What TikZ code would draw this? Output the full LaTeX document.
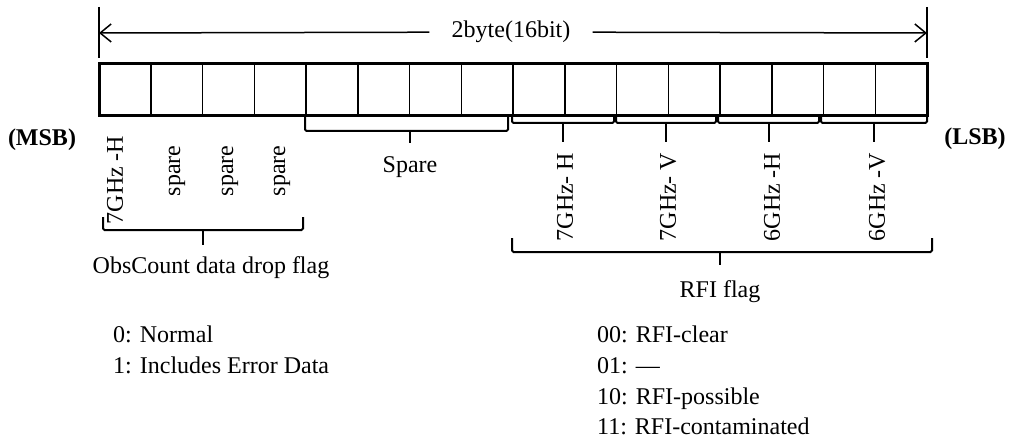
\documentclass[tikz,border=0pt]{standalone}
\usepackage{fontspec}
\setmainfont{Liberation Serif}
\usetikzlibrary{arrows.meta}
\begin{document}
\begin{tikzpicture}[x=1pt,y=-1pt,
  lbl/.style={font=\fontsize{24}{28}\selectfont, inner sep=0pt},
  blbl/.style={font=\fontsize{24}{28}\selectfont\bfseries, inner sep=0pt},
  rot/.style={lbl, rotate=90},
  brk/.style={line width=2pt, rounded corners=1.5pt},
  arr/.style={line width=1.5pt, -{Straight Barb[length=11pt,width=18pt,line width=1.5pt]}},
  tick/.style={line width=1.5pt},
  cell/.style={line width=1.5pt}]
\useasboundingbox (0,0) rectangle (1010,441);
% width arrow
\coordinate (L) at (99,33);
\coordinate (R) at (927,33);
\node[lbl, inner xsep=22pt] (ttl) at (511,32) {2byte(16bit)};
\draw[tick] (99,7) -- (99,58);
\draw[tick] (927,7) -- (927,58);
\draw[arr] (ttl) -- (L);
\draw[arr] (ttl) -- (R);
% register
\foreach \i in {1,...,15} \draw[cell] (99+\i*51.75,64) -- ++(0,52);
\draw[line width=3pt] (99,64) rectangle (927,116);
% MSB LSB
\node[blbl] (msb) at (42,140) {(MSB)};
\node[blbl] (lsb) at (975,139) {(LSB)};
% rotated labels
\node[rot] (b15) at (115,180) {7GHz -H};
\node[rot] (b14) at (177,171) {spare};
\node[rot] (b13) at (230,171) {spare};
\node[rot] (b12) at (282,171) {spare};
\node[rot] (r1) at (565,197) {7GHz- H};
\node[rot] (r2) at (668,197) {7GHz- V};
\node[rot] (r3) at (772,197) {6GHz -H};
\node[rot] (r4) at (877,197) {6GHz -V};
% spare bracket
\node[lbl] (spare) at (410,167) {Spare};
\draw[brk] (305,116) -- (305,131) -- (508,131) -- (508,116);
\coordinate (sparetip) at (410,143);
\draw[brk] (410,131) -- (sparetip);
% small brackets
\foreach \a/\b/\n in {512/614/r1, 616/716/r2, 718/819/r3, 821/927/r4}{
  \draw[brk] (\a,116) -- (\a,123) -- (\b,123) -- (\b,116);
  \draw[brk] ({(\a+\b)/2},123) -- ({(\a+\b)/2},142);
}
% ObsCount bracket
\draw[brk] (103,217) -- (103,230) -- (303,230) -- (303,217);
\draw[brk] (203,230) -- (203,245);
\node[lbl, anchor=base] (obs) at (211,273) {ObsCount data drop flag};
% RFI bracket
\draw[brk] (512,238) -- (512,252) -- (932,252) -- (932,238);
\draw[brk] (720,252) -- (720,265);
\node[lbl, anchor=base] (rfi) at (720,297) {RFI flag};
% legends
\node[lbl, anchor=base west] (l0) at (113,342) {0: Normal};
\node[lbl, anchor=base west] (l1) at (113,373) {1: Includes Error Data};
\node[lbl, anchor=base west] (k0) at (597,342) {00: RFI-clear};
\node[lbl, anchor=base west] (k1) at (597,373) {01: —};
\node[lbl, anchor=base west] (k2) at (597,404) {10: RFI-possible};
\node[lbl, anchor=base west] (k3) at (597,434) {11: RFI-contaminated};
\end{tikzpicture}
\end{document}
